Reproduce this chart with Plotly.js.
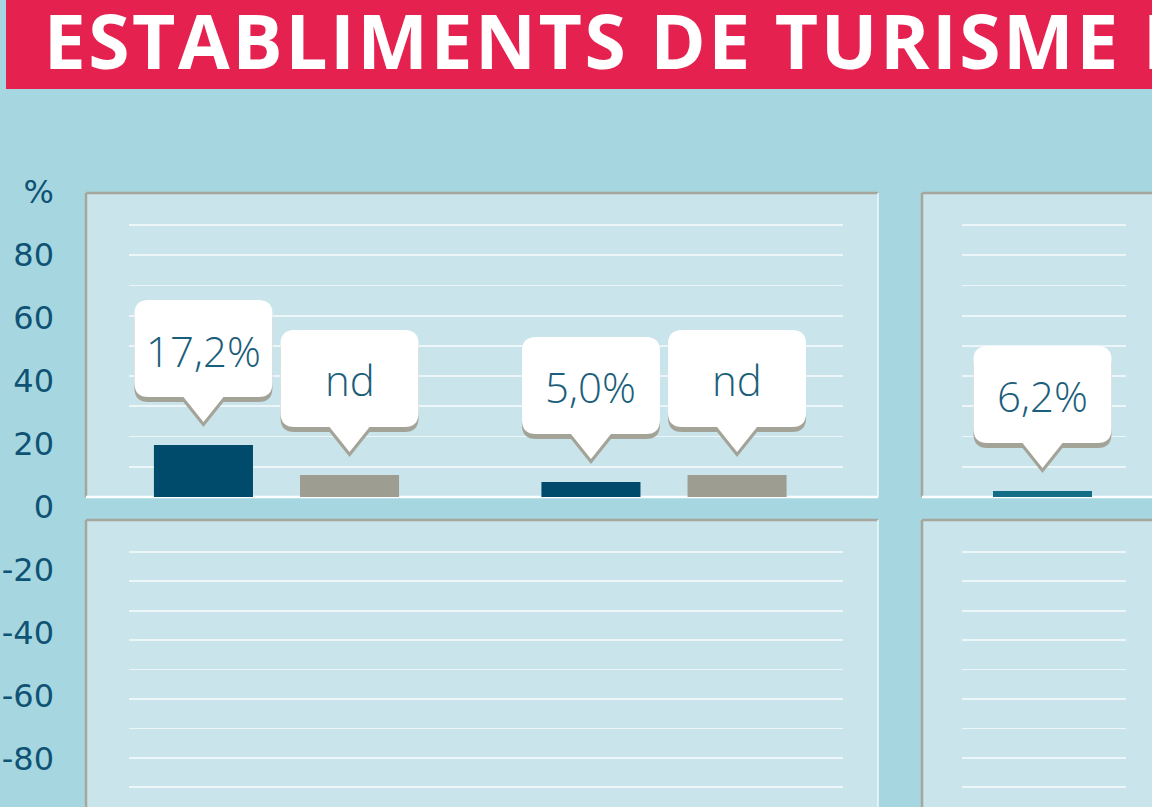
<!DOCTYPE html>
<html>
<head>
<meta charset="utf-8">
<script src="https://cdn.plot.ly/plotly-3.0.1.min.js"></script>
<style>
html,body{margin:0;padding:0;background:#a6d7e1;}
#chart{width:1152px;height:807px;}
#chart g.annotation[data-index="0"] text{letter-spacing:2.5px;}
</style>
</head>
<body>
<div id="chart"></div>
<script>
// ---- data ----
const titleText = 'ESTABLIMENTS DE TURISME RURAL';
const categories = ['A', 'B'];
const seriesDark = [17.2, 5.0];
const seriesGrey = [7.3, 7.3];
const labelsDark = ['17,2%', '5,0%'];
const labelsGrey = ['nd', 'nd'];
const rightCategories = ['C'];
const seriesRight = [2.0];
const labelsRight = ['6,2%'];
const outerTickVals = [100, 80, 60, 40, 20, 0, -20, -40, -60, -80];
const outerTickText = ['%', '80', '60', '40', '20', '0', '-20', '-40', '-60', '-80'];
const gridTop = [10, 20, 30, 40, 50, 60, 70, 80, 90];
const gridBottom = [-10, -20, -30, -40, -50, -60, -70, -80, -90];

// ---- layout helpers ----
const W = 1152, H = 807;
const px = x => x / W;
const py = y => 1 - y / H;
const BG = '#a6d7e1', PANEL = '#c9e5eb', GRID = '#ecf6f8', EDGE = '#a7a69c';
const DARK = '#004a6b', GREY = '#9e9d92', TEAL = '#146d87', TXT = '#1b5e7b';
const bargap = 0.246, bargroupgap = 0.322;
const off = (1 - bargap) / 4;
const titleSpacing = 2.5;

const traces = [
  {type: 'bar', x: categories, y: seriesDark, marker: {color: DARK}, xaxis: 'x', yaxis: 'y', hoverinfo: 'skip'},
  {type: 'bar', x: categories, y: seriesGrey, marker: {color: GREY}, xaxis: 'x', yaxis: 'y', hoverinfo: 'skip'},
  {type: 'bar', x: rightCategories, y: seriesRight, width: 0.75, marker: {color: TEAL}, xaxis: 'x2', yaxis: 'y2', hoverinfo: 'skip'},
  {type: 'scatter', x: [], y: [], xaxis: 'x3', yaxis: 'y3'},
  {type: 'scatter', x: [], y: [], xaxis: 'x4', yaxis: 'y4'},
  {type: 'scatter', x: [], y: [], xaxis: 'x5', yaxis: 'y5'}
];

const shapes = [];
const annotations = [];
function panel(x0, y0, x1, y1) {
  shapes.push({type: 'rect', xref: 'paper', yref: 'paper', x0: px(x0), x1: px(x1), y0: py(y1), y1: py(y0),
    fillcolor: PANEL, line: {width: 0}, layer: 'below'});
  shapes.push({type: 'line', xref: 'paper', yref: 'paper', x0: px(x0), x1: px(x1), y0: py(y0), y1: py(y0),
    line: {color: EDGE, width: 2.5}, layer: 'below'});
  shapes.push({type: 'line', xref: 'paper', yref: 'paper', x0: px(x0), x1: px(x0), y0: py(y0), y1: py(y1),
    line: {color: EDGE, width: 2.5}, layer: 'below'});
}
panel(86, 193, 878, 497);
panel(86, 520, 878, 812);
panel(922, 193, 1160, 497);
panel(922, 520, 1160, 812);
// white baseline and right edge
[[86, 878], [922, 1160]].forEach(([a, b]) => {
  shapes.push({type: 'line', xref: 'paper', yref: 'paper', x0: px(a), x1: px(b), y0: py(497), y1: py(497),
    line: {color: '#ffffff', width: 2.5}, layer: 'below'});
});
shapes.push({type: 'line', xref: 'paper', yref: 'paper', x0: px(878), x1: px(878), y0: py(193), y1: py(497),
  line: {color: '#eef8fa', width: 1.5}, layer: 'below'});
shapes.push({type: 'line', xref: 'paper', yref: 'paper', x0: px(878), x1: px(878), y0: py(520), y1: 0,
  line: {color: '#eef8fa', width: 1.5}, layer: 'below'});
// title banner
shapes.push({type: 'rect', xref: 'paper', yref: 'paper', x0: px(6), x1: 1, y0: py(89), y1: 1,
  fillcolor: '#e52150', line: {width: 0}, layer: 'below'});
// letter-spacing is applied by CSS around the text centre, so compensate half of the added width
annotations.push({xref: 'paper', yref: 'paper', x: px(42 + titleText.length * titleSpacing / 2), y: py(40),
  xanchor: 'left', yanchor: 'middle',
  text: titleText, showarrow: false, font: {family: 'Open Sans', size: 75, weight: 700, color: '#ffffff'}});

// callouts
const R = 14, HW = 69, TOP = 145, BOT = 48, TIP = 23, PW = 20;
function calloutPath(dy) {
  const p = (x, y) => x + ',' + (y - dy);
  return 'M' + p(-HW + R, TOP) + ' L' + p(HW - R, TOP) + ' Q' + p(HW, TOP) + ' ' + p(HW, TOP - R) +
    ' L' + p(HW, BOT + R) + ' Q' + p(HW, BOT) + ' ' + p(HW - R, BOT) +
    ' L' + p(PW, BOT) + ' L' + p(0, TIP) + ' L' + p(-PW, BOT) +
    ' L' + p(-HW + R, BOT) + ' Q' + p(-HW, BOT) + ' ' + p(-HW, BOT + R) +
    ' L' + p(-HW, TOP - R) + ' Q' + p(-HW, TOP) + ' ' + p(-HW + R, TOP) + ' Z';
}
function callout(xr, yr, xv, yv, label) {
  shapes.push({type: 'path', xref: xr, yref: yr, xsizemode: 'pixel', ysizemode: 'pixel', xanchor: xv, yanchor: yv,
    path: calloutPath(5), fillcolor: '#a4a397', line: {width: 0}, layer: 'above'});
  shapes.push({type: 'path', xref: xr, yref: yr, xsizemode: 'pixel', ysizemode: 'pixel', xanchor: xv, yanchor: yv,
    path: calloutPath(0), fillcolor: '#ffffff', line: {width: 0}, layer: 'above'});
  annotations.push({xref: xr, yref: yr, x: xv, y: yv, yshift: 95, xanchor: 'center', yanchor: 'middle',
    text: label, showarrow: false, font: {family: 'Open Sans', size: 42, weight: 300, color: TXT}});
}
categories.forEach((c, i) => {
  callout('x', 'y', i - off, seriesDark[i], labelsDark[i]);
  callout('x', 'y', i + off, seriesGrey[i], labelsGrey[i]);
});
rightCategories.forEach((c, i) => callout('x2', 'y2', i, seriesRight[i], labelsRight[i]));

const hiddenX = {type: 'category', showgrid: false, zeroline: false, showline: false, showticklabels: false, ticks: '', fixedrange: true};
const gridY = (vals, range) => ({range: range, tickmode: 'array', tickvals: vals, showgrid: true, gridcolor: GRID,
  gridwidth: 1.8, zeroline: false, showline: false, showticklabels: false, ticks: '', fixedrange: true});

const layout = {
  width: W, height: H,
  margin: {l: 0, r: 0, t: 0, b: 0, pad: 0},
  paper_bgcolor: BG, plot_bgcolor: 'rgba(0,0,0,0)',
  showlegend: false,
  barmode: 'group', bargap: bargap, bargroupgap: bargroupgap,
  xaxis: Object.assign({}, hiddenX, {domain: [px(129), px(843)], range: [-0.3806, 1.4619], anchor: 'y'}),
  yaxis: Object.assign(gridY(gridTop, [0, 100.58]), {domain: [py(497), py(193)], anchor: 'x'}),
  xaxis2: Object.assign({}, hiddenX, {domain: [px(962), px(1126)], range: [-0.6098, 0.6326], anchor: 'y2'}),
  yaxis2: Object.assign(gridY(gridTop, [0, 100.58]), {domain: [py(497), py(193)], anchor: 'x2'}),
  xaxis3: Object.assign({}, hiddenX, {type: 'linear', domain: [px(129), px(843)], range: [0, 1], anchor: 'y3'}),
  yaxis3: Object.assign(gridY(gridBottom, [-96.73, 0.88]), {domain: [0, py(520)], anchor: 'x3'}),
  xaxis4: Object.assign({}, hiddenX, {type: 'linear', domain: [px(962), px(1126)], range: [0, 1], anchor: 'y4'}),
  yaxis4: Object.assign(gridY(gridBottom, [-96.73, 0.88]), {domain: [0, py(520)], anchor: 'x4'}),
  xaxis5: Object.assign({}, hiddenX, {type: 'linear', domain: [px(55), px(60)], range: [0, 1], anchor: 'y5'}),
  yaxis5: {domain: [0, 1], range: [-95.24, 160.95], anchor: 'x5', side: 'left', tickmode: 'array',
    tickvals: outerTickVals, ticktext: outerTickText, showgrid: false, zeroline: false, showline: false, ticks: '',
    tickfont: {family: 'DejaVu Sans', size: 32, color: '#0f5273'}, fixedrange: true},
  shapes: shapes,
  annotations: annotations
};

Plotly.newPlot('chart', traces, layout, {staticPlot: true, displayModeBar: false});
</script>
</body>
</html>
